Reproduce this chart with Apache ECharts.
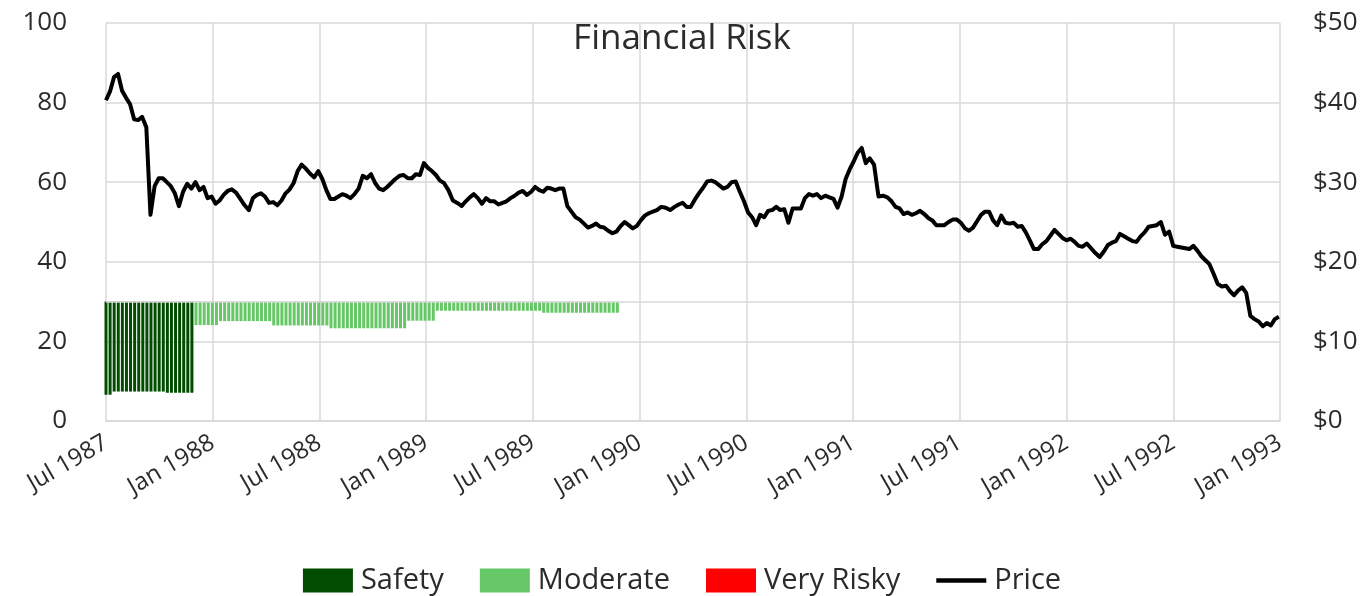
<!DOCTYPE html>
<html>
<head>
<meta charset="utf-8">
<title>Financial Risk</title>
<script src="https://cdn.jsdelivr.net/npm/echarts@6/dist/echarts.min.js"></script>
<style>
    html, body { margin: 0; padding: 0; background: #fff; }
    #chart { width: 1364px; height: 596px; }
</style>
</head>
<body>
<div id="chart"></div>
<script>
// Weekly closing price, first week starting 1 Jul 1987
const weekStart = '1987-07-01';
const price = [
    40.3, 41.4, 43.2, 43.6, 41.5, 40.6, 39.8, 37.9, 37.8, 38.2, 36.9, 25.9, 29.5, 30.5, 30.5, 30.0,
    29.5, 28.6, 27.0, 28.8, 29.8, 29.2, 30.0, 29.0, 29.4, 28.0, 28.2, 27.3, 27.7, 28.4, 28.9, 29.1,
    28.7, 27.9, 27.1, 26.5, 28.0, 28.4, 28.6, 28.2, 27.4, 27.5, 27.1, 27.7, 28.6, 29.1, 29.9, 31.4,
    32.2, 31.7, 31.1, 30.6, 31.4, 30.4, 29.0, 27.9, 27.9, 28.2, 28.5, 28.3, 28.0, 28.5, 29.2, 30.8,
    30.5, 31.0, 29.9, 29.2, 29.0, 29.4, 29.9, 30.4, 30.8, 30.9, 30.5, 30.5, 31.0, 30.9, 32.4, 31.8,
    31.4, 30.9, 30.2, 29.9, 29.0, 27.7, 27.4, 27.0, 27.6, 28.1, 28.5, 28.0, 27.3, 28.0, 27.6, 27.6,
    27.2, 27.4, 27.6, 28.0, 28.3, 28.7, 28.9, 28.4, 28.8, 29.4, 29.0, 28.8, 29.3, 29.2, 29.0, 29.2,
    29.2, 27.0, 26.3, 25.6, 25.3, 24.8, 24.3, 24.5, 24.8, 24.4, 24.3, 23.9, 23.6, 23.8, 24.5, 25.0,
    24.6, 24.2, 24.5, 25.2, 25.8, 26.1, 26.3, 26.5, 26.9, 26.8, 26.5, 26.9, 27.2, 27.4, 26.9, 26.9,
    27.8, 28.6, 29.3, 30.1, 30.2, 30.0, 29.6, 29.2, 29.4, 30.0, 30.1, 28.8, 27.6, 26.2, 25.6, 24.6,
    25.9, 25.6, 26.4, 26.5, 26.9, 26.5, 26.6, 24.9, 26.7, 26.7, 26.7, 28.0, 28.5, 28.3, 28.5, 28.0,
    28.3, 28.1, 27.9, 26.8, 28.2, 30.4, 31.6, 32.6, 33.7, 34.3, 32.4, 33.0, 32.2, 28.2, 28.3, 28.1,
    27.6, 26.9, 26.7, 26.0, 26.2, 25.9, 26.1, 26.4, 26.0, 25.5, 25.2, 24.6, 24.6, 24.6, 25.0, 25.3,
    25.3, 24.9, 24.2, 23.9, 24.3, 25.1, 25.9, 26.3, 26.3, 25.2, 24.6, 25.8, 24.9, 24.8, 24.9, 24.4,
    24.5, 23.7, 22.7, 21.6, 21.6, 22.2, 22.6, 23.3, 24.0, 23.5, 23.0, 22.7, 22.9, 22.5, 22.0, 21.9,
    22.3, 21.7, 21.1, 20.6, 21.3, 22.1, 22.4, 22.6, 23.5, 23.2, 22.9, 22.6, 22.5, 23.2, 23.7, 24.4,
    24.5, 24.6, 25.0, 23.4, 23.8, 22.0, 21.9, 21.8, 21.7, 21.6, 22.0, 21.4, 20.7, 20.2, 19.7, 18.5,
    17.2, 16.9, 17.0, 16.3, 15.8, 16.4, 16.8, 16.1, 13.2, 12.8, 12.5, 11.9, 12.3, 12.0, 12.8, 13.1
];

// Risk bars: every bar runs from its low value up to riskTop (left axis)
const riskTop = 30;
const safetyLow = [
    6.6, 6.6, 7.4, 7.4, 7.4, 7.4, 7.4, 7.4, 7.4, 7.4, 7.4, 7.4, 7.4, 7.4, 7.4,
    7.1, 7.1, 7.1, 7.1, 7.1, 7.1, 7.1
];
const moderateLow = [
    24.1, 24.1, 24.1, 24.1, 24.1, 24.1,
    25.1, 25.1, 25.1, 25.1, 25.1, 25.1, 25.1, 25.1, 25.1, 25.1, 25.1, 25.1, 25.1,
    24.0, 24.0, 24.0, 24.0, 24.0, 24.0, 24.0, 24.0, 24.0, 24.0, 24.0, 24.0, 24.0, 24.0,
    23.3, 23.3, 23.3, 23.3, 23.3, 23.3, 23.3, 23.3, 23.3, 23.3, 23.3, 23.3, 23.3, 23.3, 23.3, 23.3, 23.3, 23.3, 23.3,
    25.2, 25.2, 25.2, 25.2, 25.2, 25.2, 25.2,
    27.7, 27.7, 27.7, 27.7, 27.7, 27.7, 27.7, 27.7, 27.7, 27.7, 27.7, 27.7, 27.7,
    27.7, 27.7, 27.7, 27.7, 27.7, 27.7, 27.7, 27.7, 27.7, 27.7, 27.7, 27.7, 27.7,
    27.2, 27.2, 27.2, 27.2, 27.2, 27.2, 27.2, 27.2, 27.2, 27.2, 27.2, 27.2, 27.2, 27.2, 27.2, 27.2, 27.2, 27.2, 27.2
];
const veryRiskyLow = [];

const xTickLabels = [
    'Jul 1987', 'Jan 1988', 'Jul 1988', 'Jan 1989', 'Jul 1989', 'Jan 1990',
    'Jul 1990', 'Jan 1991', 'Jul 1991', 'Jan 1992', 'Jul 1992', 'Jan 1993'
];

const FONT = '"Open Sans", "Noto Sans", sans-serif';
const GRID_COLOR = '#d9d9d9';
const TEXT_COLOR = '#2b2b2b';

class FinancialRiskChart {
    constructor() {
        this.chart = null;
    }

    init(containerId) {
        const el = document.getElementById(containerId);
        this.chart = echarts.init(el);
        this.render();
    }

    weekDate(i) {
        const t0 = Date.parse(weekStart + 'T00:00:00Z');
        return new Date(t0 + i * 7 * 86400000);
    }

    // months since Jul 1987, so ticks land on Jan / Jul
    monthPos(date) {
        const y = date.getUTCFullYear();
        const m = date.getUTCMonth();
        const dim = new Date(Date.UTC(y, m + 1, 0)).getUTCDate();
        return (y - 1987) * 12 + m - 6 + (date.getUTCDate() - 1) / dim;
    }

    render() {
        const weeks = price.map((v, i) => this.weekDate(i).toISOString().slice(0, 10));
        const priceData = price.map((v, i) => [this.monthPos(this.weekDate(i)), v]);

        // bars sit on a hidden weekly category axis so the stack lines up by index
        const lows = safetyLow.concat(moderateLow, veryRiskyLow);
        const nS = safetyLow.length;
        const nM = moderateLow.length;
        const pick = (from, to) => lows.map((v, i) => (i >= from && i < to ? riskTop - v : '-'));

        const barCommon = {
            type: 'bar',
            stack: 'risk',
            barWidth: 3,
            xAxisIndex: 1,
            yAxisIndex: 0,
            silent: true
        };

        const option = {
            animation: false,
            textStyle: { fontFamily: FONT },
            title: {
                text: 'Financial Risk',
                left: 'center',
                top: 17,
                textStyle: { color: TEXT_COLOR, fontSize: 35, fontWeight: 'normal', fontFamily: FONT }
            },
            legend: {
                top: 561,
                left: 'center',
                itemWidth: 50,
                itemHeight: 24,
                itemGap: 36,
                textStyle: { color: TEXT_COLOR, fontSize: 29, fontFamily: FONT, padding: [0, 0, 0, 3] },
                data: [
                    { name: 'Safety', icon: 'rect' },
                    { name: 'Moderate', icon: 'rect' },
                    { name: 'Very Risky', icon: 'rect' },
                    { name: 'Price', icon: 'path://M0,0H50V4.5H0Z' }
                ]
            },
            grid: { left: 106, right: 84, top: 23, bottom: 175, outerBoundsMode: 'none' },
            xAxis: [
                {
                    type: 'value',
                    min: 0,
                    max: 66,
                    interval: 6,
                    axisLine: { show: true, lineStyle: { color: GRID_COLOR, width: 1.5 } },
                    axisTick: { show: false },
                    splitLine: { show: true, lineStyle: { color: GRID_COLOR, width: 1.5 } },
                    axisLabel: {
                        rotate: 30,
                        margin: 20,
                        color: TEXT_COLOR,
                        fontSize: 24,
                        fontFamily: FONT,
                        formatter: v => xTickLabels[Math.round(v / 6)]
                    }
                },
                {
                    type: 'category',
                    data: weeks,
                    boundaryGap: false,
                    show: false
                }
            ],
            yAxis: [
                {
                    type: 'value',
                    min: 0,
                    max: 100,
                    interval: 20,
                    axisLine: { show: false },
                    axisTick: { show: false },
                    splitLine: { lineStyle: { color: GRID_COLOR, width: 1.5 } },
                    axisLabel: { color: TEXT_COLOR, fontSize: 26, margin: 39, fontFamily: FONT }
                },
                {
                    type: 'value',
                    position: 'right',
                    min: 0,
                    max: 50,
                    interval: 10,
                    offset: 25,
                    axisLine: { show: false },
                    axisTick: { show: false },
                    splitLine: { show: false },
                    axisLabel: {
                        color: TEXT_COLOR,
                        fontSize: 26,
                        margin: 8,
                        fontFamily: FONT,
                        formatter: v => '$' + v
                    }
                }
            ],
            series: [
                {
                    ...barCommon,
                    name: 'base',
                    itemStyle: { color: 'rgba(0,0,0,0)' },
                    data: lows,
                    markLine: {
                        silent: true,
                        symbol: 'none',
                        label: { show: false },
                        lineStyle: { color: GRID_COLOR, width: 1.5, type: 'solid' },
                        data: [{ yAxis: riskTop }]
                    }
                },
                { ...barCommon, name: 'Safety', itemStyle: { color: '#004d00' }, data: pick(0, nS) },
                { ...barCommon, name: 'Moderate', itemStyle: { color: '#66c766' }, data: pick(nS, nS + nM) },
                { ...barCommon, name: 'Very Risky', itemStyle: { color: '#ff0000' }, data: pick(nS + nM, lows.length) },
                {
                    name: 'Price',
                    type: 'line',
                    xAxisIndex: 0,
                    yAxisIndex: 1,
                    symbol: 'none',
                    z: 5,
                    lineStyle: { color: '#000', width: 4, join: 'round' },
                    itemStyle: { color: '#000' },
                    data: priceData
                }
            ]
        };

        this.chart.setOption(option);
    }
}

const financialRiskChart = new FinancialRiskChart();
financialRiskChart.init('chart');
</script>
</body>
</html>
